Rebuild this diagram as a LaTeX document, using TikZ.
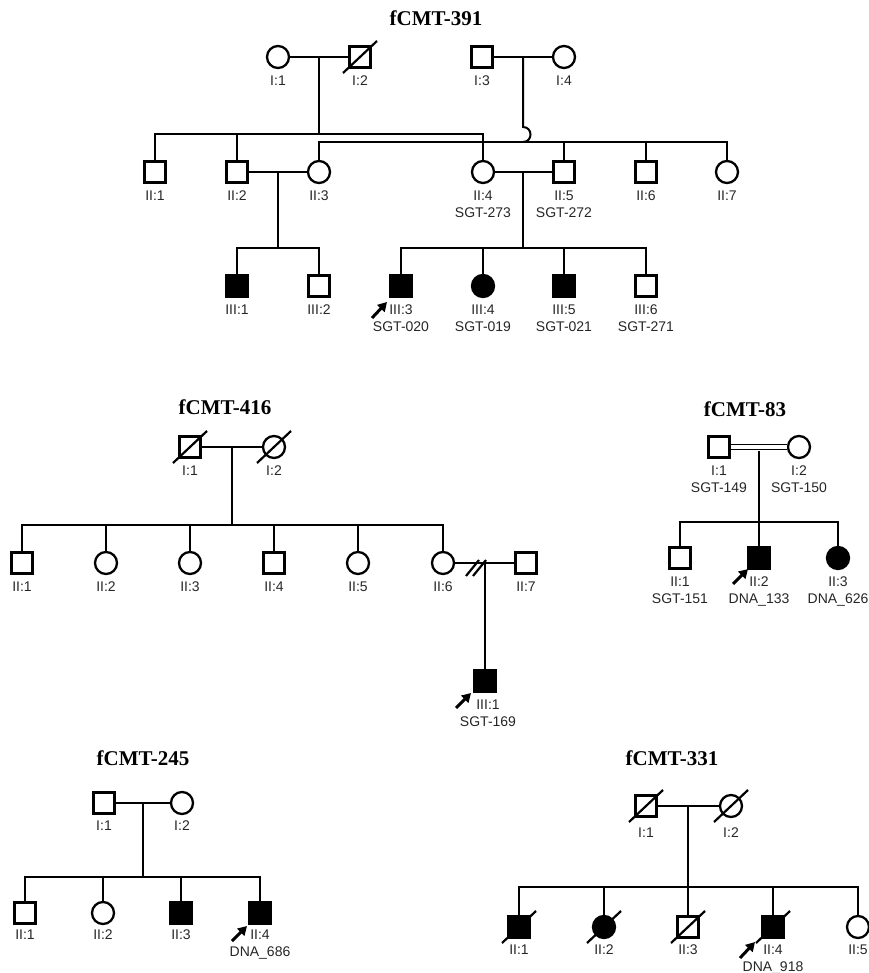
\documentclass[tikz,border=0pt]{standalone}
\usepackage{fontspec}
\setmainfont{Liberation Serif}
\setsansfont{Liberation Sans}
\usetikzlibrary{arrows.meta,calc}
\tikzset{
  sq/.style={draw, rectangle, minimum size=21pt, inner sep=0pt, line width=2.3pt},
  ci/.style={draw, circle, minimum size=22pt, inner sep=0pt, line width=2.3pt},
  aff/.style={fill=black},
  lab/.style={anchor=north, inner sep=0pt, font=\sffamily\fontsize{14}{17}\selectfont, align=center, text=black!85},
  ttl/.style={font=\bfseries\fontsize{21}{24}\selectfont, inner sep=0pt},
  ln/.style={line width=2pt, line join=miter},
  dead/.style={line width=2.2pt},
  prob/.style={line width=3pt, -{Triangle[length=9pt,width=10pt]}},
}
\newcommand{\deadmark}[1]{\draw[dead] ($(#1)+(-17,16)$) -- ($(#1)+(17,-16)$);}
\begin{document}
\begin{tikzpicture}[x=1pt,y=-1pt]
\useasboundingbox (0,0) rectangle (868,973);

% ---------------- fCMT-391 ----------------
\node[ttl] (t391) at (436,18) {fCMT-391};
\node[ci] (a1) at (278,57) {};
\node[sq] (a2) at (360,57) {};
\node[sq] (a3) at (482,57) {};
\node[ci] (a4) at (564,57) {};
\deadmark{a2}
\node[lab] (a1l) at ($(a1)+(0,19)$) {I:1};
\node[lab] (a2l) at ($(a2)+(0,19)$) {I:2};
\node[lab] (a3l) at ($(a3)+(0,19)$) {I:3};
\node[lab] (a4l) at ($(a4)+(0,19)$) {I:4};
\draw[ln] (a1) -- (a2);
\draw[ln] (a3) -- (a4);

\node[sq] (b1) at (155,172) {};
\node[sq] (b2) at (237,172) {};
\node[ci] (b3) at (319,172) {};
\node[ci] (b4) at (483,172) {};
\node[sq] (b5) at (564,172) {};
\node[sq] (b6) at (646,172) {};
\node[ci] (b7) at (727,172) {};
\node[lab] (b1l) at ($(b1)+(0,19)$) {II:1};
\node[lab] (b2l) at ($(b2)+(0,19)$) {II:2};
\node[lab] (b3l) at ($(b3)+(0,19)$) {II:3};
\node[lab] (b4l) at ($(b4)+(0,19)$) {II:4\\SGT-273};
\node[lab] (b5l) at ($(b5)+(0,19)$) {II:5\\SGT-272};
\node[lab] (b6l) at ($(b6)+(0,19)$) {II:6};
\node[lab] (b7l) at ($(b7)+(0,19)$) {II:7};

\coordinate (am12) at (319,57);
\coordinate (as1) at (319,134);
\draw[ln] (am12) -- (as1);
\draw[ln] (b1.north) |- (as1) -| (b4.north);
\draw[ln] (b2.north) -- (b2.north |- as1);

\coordinate (am34) at (523,57);
\coordinate (hop) at (523,127);
\coordinate (as2) at (523,142);
\draw[ln] (am34) -- (hop) .. controls +(10,0) and +(10,0) .. (as2);
\draw[ln] (b3.north) |- (as2) -| (b7.north);
\draw[ln] (b5.north) -- (b5.north |- as2);
\draw[ln] (b6.north) -- (b6.north |- as2);

\node[sq,aff] (c1) at (237,286) {};
\node[sq] (c2) at (319,286) {};
\node[sq,aff] (c3) at (401,286) {};
\node[ci,aff] (c4) at (483,286) {};
\node[sq,aff] (c5) at (564,286) {};
\node[sq] (c6) at (646,286) {};
\node[lab] (c1l) at ($(c1)+(0,19)$) {III:1};
\node[lab] (c2l) at ($(c2)+(0,19)$) {III:2};
\node[lab] (c3l) at ($(c3)+(0,19)$) {III:3\\SGT-020};
\node[lab] (c4l) at ($(c4)+(0,19)$) {III:4\\SGT-019};
\node[lab] (c5l) at ($(c5)+(0,19)$) {III:5\\SGT-021};
\node[lab] (c6l) at ($(c6)+(0,19)$) {III:6\\SGT-271};

\draw[ln] (b2) -- (b3);
\coordinate (bm23) at (278,172);
\coordinate (bs1) at (278,248);
\draw[ln] (bm23) -- (bs1);
\draw[ln] (c1.north) |- (bs1) -| (c2.north);

\draw[ln] (b4) -- (b5);
\coordinate (bm45) at (523,172);
\coordinate (bs2) at (523,248);
\draw[ln] (bm45) -- (bs2);
\draw[ln] (c3.north) |- (bs2) -| (c6.north);
\draw[ln] (c4.north) -- (c4.north |- bs2);
\draw[ln] (c5.north) -- (c5.north |- bs2);

\coordinate (p1a) at ($(c3)+(-29,32)$);
\coordinate (p1b) at ($(c3)+(-14,16)$);
\draw[prob] (p1a) -- (p1b);

% ---------------- fCMT-416 ----------------
\node[ttl] (t416) at (225,407) {fCMT-416};
\node[sq] (d1) at (190,447) {};
\node[ci] (d2) at (274,447) {};
\deadmark{d1}
\deadmark{d2}
\node[lab] (d1l) at ($(d1)+(0,19)$) {I:1};
\node[lab] (d2l) at ($(d2)+(0,19)$) {I:2};
\draw[ln] (d1) -- (d2);
\coordinate (dm) at (232,447);
\coordinate (ds) at (232,525);
\draw[ln] (dm) -- (ds);

\node[sq] (e1) at (22,563) {};
\node[ci] (e2) at (106,563) {};
\node[ci] (e3) at (190,563) {};
\node[sq] (e4) at (274,563) {};
\node[ci] (e5) at (358,563) {};
\node[ci] (e6) at (443,563) {};
\node[sq] (e7) at (526,563) {};
\node[lab] (e1l) at ($(e1)+(0,19)$) {II:1};
\node[lab] (e2l) at ($(e2)+(0,19)$) {II:2};
\node[lab] (e3l) at ($(e3)+(0,19)$) {II:3};
\node[lab] (e4l) at ($(e4)+(0,19)$) {II:4};
\node[lab] (e5l) at ($(e5)+(0,19)$) {II:5};
\node[lab] (e6l) at ($(e6)+(0,19)$) {II:6};
\node[lab] (e7l) at ($(e7)+(0,19)$) {II:7};
\draw[ln] (e1.north) |- (ds) -| (e6.north);
\draw[ln] (e2.north) -- (e2.north |- ds);
\draw[ln] (e3.north) -- (e3.north |- ds);
\draw[ln] (e4.north) -- (e4.north |- ds);
\draw[ln] (e5.north) -- (e5.north |- ds);

\draw[ln] (e6) -- (e7);
\draw[dead] (466,576) -- (479,560);
\draw[dead] (473,576) -- (486,560);
\node[sq,aff] (f1) at (485,681) {};
\node[lab] (f1l) at ($(f1)+(3,19)$) {III:1\\SGT-169};
\coordinate (em) at (485,563);
\draw[ln] (em) -- (f1.north);
\coordinate (p2a) at ($(f1)+(-29,27)$);
\coordinate (p2b) at ($(f1)+(-14,12)$);
\draw[prob] (p2a) -- (p2b);

% ---------------- fCMT-83 ----------------
\node[ttl] (t83) at (745,409) {fCMT-83};
\node[sq] (g1) at (719,447) {};
\node[ci] (g2) at (799,447) {};
\node[lab] (g1l) at ($(g1)+(0,19)$) {I:1\\SGT-149};
\node[lab] (g2l) at ($(g2)+(0,19)$) {I:2\\SGT-150};
\draw[line width=1.5pt, double, double distance=3.2pt] (g1) -- (g2);
\coordinate (gm) at (759,451);
\coordinate (gs) at (759,522);
\draw[ln] (gm) -- (gs);
\node[sq] (h1) at (680,558) {};
\node[sq,aff] (h2) at (759,558) {};
\node[ci,aff] (h3) at (838,558) {};
\node[lab] (h1l) at ($(h1)+(0,19)$) {II:1\\SGT-151};
\node[lab] (h2l) at ($(h2)+(0,19)$) {II:2\\DNA\_133};
\node[lab] (h3l) at ($(h3)+(0,19)$) {II:3\\DNA\_626};
\draw[ln] (h1.north) |- (gs) -| (h3.north);
\draw[ln] (gs) -- (h2.north);
\coordinate (p3a) at ($(h2)+(-26,26)$);
\coordinate (p3b) at ($(h2)+(-11,11)$);
\draw[prob] (p3a) -- (p3b);

% ---------------- fCMT-245 ----------------
\node[ttl] (t245) at (143,758) {fCMT-245};
\node[sq] (i1) at (104,803) {};
\node[ci] (i2) at (182,803) {};
\node[lab] (i1l) at ($(i1)+(0,18)$) {I:1};
\node[lab] (i2l) at ($(i2)+(0,18)$) {I:2};
\draw[ln] (i1) -- (i2);
\coordinate (im) at (143,803);
\coordinate (is) at (143,877);
\draw[ln] (im) -- (is);
\node[sq] (j1) at (25,913) {};
\node[ci] (j2) at (103,913) {};
\node[sq,aff] (j3) at (181,913) {};
\node[sq,aff] (j4) at (260,913) {};
\node[lab] (j1l) at ($(j1)+(0,17)$) {II:1};
\node[lab] (j2l) at ($(j2)+(0,17)$) {II:2};
\node[lab] (j3l) at ($(j3)+(0,17)$) {II:3};
\node[lab] (j4l) at ($(j4)+(0,17)$) {II:4\\DNA\_686};
\draw[ln] (j1.north) |- (is) -| (j4.north);
\draw[ln] (j2.north) -- (j2.north |- is);
\draw[ln] (j3.north) -- (j3.north |- is);
\coordinate (p4a) at ($(j4)+(-28,28)$);
\coordinate (p4b) at ($(j4)+(-13,13)$);
\draw[prob] (p4a) -- (p4b);

% ---------------- fCMT-331 ----------------
\node[ttl] (t331) at (672,758) {fCMT-331};
\node[sq] (k1) at (646,806) {};
\node[ci] (k2) at (731,806) {};
\deadmark{k1}
\deadmark{k2}
\node[lab] (k1l) at ($(k1)+(0,22)$) {I:1};
\node[lab] (k2l) at ($(k2)+(0,22)$) {I:2};
\draw[ln] (k1) -- (k2);
\coordinate (km) at (688,806);
\coordinate (ks) at (688,887);
\draw[ln] (km) -- (ks);
\node[sq,aff] (l1) at (519,927) {};
\node[ci,aff] (l2) at (604,927) {};
\node[sq] (l3) at (688,927) {};
\node[sq,aff] (l4) at (773,927) {};
\node[ci] (l5) at (858,927) {};
\deadmark{l1}
\deadmark{l2}
\deadmark{l3}
\deadmark{l4}
\node[lab] (l1l) at ($(l1)+(0,18)$) {II:1};
\node[lab] (l2l) at ($(l2)+(0,18)$) {II:2};
\node[lab] (l3l) at ($(l3)+(0,18)$) {II:3};
\node[lab] (l4l) at ($(l4)+(0,18)$) {II:4\\DNA\_918};
\node[lab] (l5l) at ($(l5)+(0,18)$) {II:5};
\draw[ln] (l1.north) |- (ks) -| (l5.north);
\draw[ln] (ks) -- (l3.north);
\draw[ln] (l2.north) -- (l2.north |- ks);
\draw[ln] (l4.north) -- (l4.north |- ks);
\coordinate (p5a) at ($(l4)+(-33,31)$);
\coordinate (p5b) at ($(l4)+(-18,15)$);
\draw[prob] (p5a) -- (p5b);
\end{tikzpicture}
\end{document}
